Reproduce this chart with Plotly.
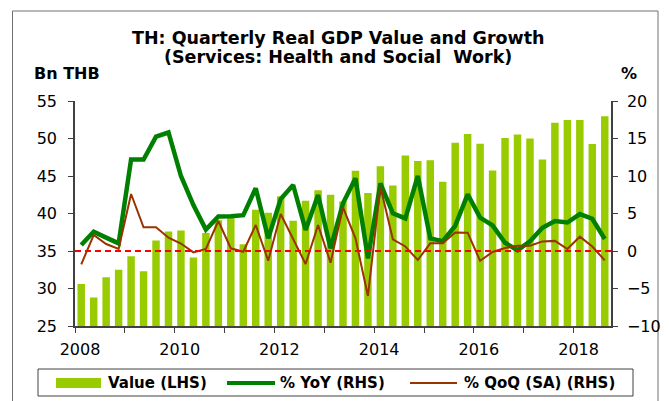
import numpy as np
import plotly.graph_objects as go

# ---------------- data ----------------
quarters = [f"{y}Q{q}" for y in range(2008, 2019) for q in range(1, 5)][:43]

value_lhs = [30.6, 28.8, 31.5, 32.5, 34.3, 32.3, 36.4, 37.6, 37.75, 34.15,
             37.4, 39.1, 39.6, 35.9, 40.5, 40.1, 42.3, 39.05, 41.7, 43.1,
             42.5, 41.6, 45.7, 42.75, 46.3, 43.75, 47.75, 47.0, 47.1, 44.25,
             49.45, 50.6, 49.3, 45.75, 50.07, 50.55, 50.0, 47.2, 52.1, 52.47,
             52.47, 49.27, 52.96]

yoy_rhs = [0.8, 2.58, 1.78, 1.02, 12.2, 12.2, 15.24, 15.8, 10.0, 6.13,
           2.85, 4.6, 4.65, 4.78, 8.36, 1.69, 6.93, 8.8, 2.8, 7.47,
           0.36, 6.36, 9.69, -0.98, 9.02, 5.02, 4.35, 10.0, 1.69, 1.3,
           3.35, 7.56, 4.45, 3.42, 1.1, 0.1, 1.3, 3.1, 4.0, 3.8,
           4.93, 4.3, 1.6]

qoq_rhs = [-1.78, 2.13, 0.93, 0.27, 7.6, 3.16, 3.16, 1.78, 1.0, -0.18,
           0.27, 4.0, 0.36, -0.1, 3.47, -1.29, 4.93, 1.6, -1.73, 3.47,
           -1.56, 5.82, 1.69, -6.0, 8.58, 1.56, 0.6, -1.2, 1.02, 1.02,
           2.47, 2.44, -1.31, -0.13, 0.4, 0.69, 0.71, 1.28, 1.35, 0.27,
           1.91, 0.6, -1.25]

year_labels = ["2008", "2010", "2012", "2014", "2016", "2018"]
left_ticks = [25, 30, 35, 40, 45, 50, 55]
right_ticks = [-10, -5, 0, 5, 10, 15, 20]

title_1 = "TH: Quarterly Real GDP Value and Growth"
title_2 = "(Services: Health and Social  Work)"
legend_names = ["Value (LHS)", "% YoY (RHS)", "% QoQ (SA) (RHS)"]

# ---------------- styling ----------------
W, H = 669, 401
L, R, T, B = 75, 611, 101, 326   # plot area in pixels
FONT = "'DejaVu Sans', Arial, sans-serif"
BAR_C = "#99CC00"
YOY_C = "#008000"
QOQ_C = "#993300"
AXIS_C = "#404040"

def px(x):
    return (x - L) / (R - L)

def py(y):
    return (B - y) / (B - T)

x = np.arange(len(quarters))
first_q_of_year = {q[:4]: i for i, q in reversed(list(enumerate(quarters)))}
label_pos = [first_q_of_year[y] - 0.1 for y in year_labels]
year_starts = [i - 0.5 for i, q in enumerate(quarters) if q.endswith("Q1")]

fig = go.Figure()
fig.add_trace(go.Bar(x=x, y=value_lhs, name=legend_names[0], marker_color=BAR_C,
                     marker_line_width=0, width=0.6, yaxis="y"))
fig.add_trace(go.Scatter(x=x, y=yoy_rhs, name=legend_names[1], mode="lines",
                         line=dict(color=YOY_C, width=4.5), yaxis="y2"))
fig.add_trace(go.Scatter(x=x, y=qoq_rhs, name=legend_names[2], mode="lines",
                         line=dict(color=QOQ_C, width=2), yaxis="y2"))

shapes = []
shapes.append(dict(type="line", xref="paper", x0=0, x1=1, yref="y2", y0=0, y1=0,
                   line=dict(color="#FF0000", width=2, dash="6px,4px"), layer="above"))
shapes.append(dict(type="rect", xref="paper", yref="paper",
                   x0=px(12.5), x1=px(658), y0=py(405), y1=py(11),
                   line=dict(color="#707070", width=1), layer="below"))
shapes.append(dict(type="rect", xref="paper", yref="paper",
                   x0=px(38), x1=px(633), y0=py(396), y1=py(369),
                   line=dict(color="#404040", width=1), layer="below"))
shapes.append(dict(type="rect", xref="paper", yref="paper",
                   x0=px(56), x1=px(101), y0=py(388), y1=py(378),
                   line=dict(width=0), fillcolor=BAR_C))
shapes.append(dict(type="line", xref="paper", yref="paper",
                   x0=px(227), x1=px(275), y0=py(383), y1=py(383),
                   line=dict(color=YOY_C, width=4)))
shapes.append(dict(type="line", xref="paper", yref="paper",
                   x0=px(410), x1=px(457), y0=py(383), y1=py(383),
                   line=dict(color=QOQ_C, width=2)))

def ann(text, xp, yp, size, anchor="left"):
    return dict(text=text, x=px(xp), y=py(yp), xref="paper", yref="paper",
                xanchor=anchor, yanchor="middle", showarrow=False,
                font=dict(family=FONT, size=size, color="black"))

annotations = [
    ann(f"<b>{title_1}</b>", 338, 38, 17.5, "center"),
    ann(f"<b>{title_2}</b>", 338, 57, 17.5, "center"),
    ann("<b>Bn THB</b>", 32, 74, 16),
    ann("<b>%</b>", 629, 74, 16, "center"),
    ann(f"<b>{legend_names[0]}</b>", 106, 383, 15),
    ann(f"<b>{legend_names[1]}</b>", 278, 383, 15),
    ann(f"<b>{legend_names[2]}</b>", 462, 383, 15),
]

tickfont = dict(family=FONT, size=16, color="black")

fig.update_layout(
    width=W, height=H,
    margin=dict(l=L, r=W - R, t=T, b=H - B, pad=0, autoexpand=False),
    paper_bgcolor="white", plot_bgcolor="white",
    showlegend=False,
    font=dict(family=FONT, size=16, color="black"),
    shapes=shapes, annotations=annotations,
    xaxis=dict(range=[-0.5, len(quarters) - 0.5], showgrid=False, zeroline=False,
               showline=True, linecolor=AXIS_C, linewidth=1.5,
               tickmode="array", tickvals=label_pos, ticktext=year_labels,
               ticks="", ticklabelstandoff=8, tickfont=tickfont,
               minor=dict(tickmode="array", tickvals=year_starts, ticks="outside",
                          ticklen=5, tickcolor=AXIS_C, tickwidth=1, showgrid=False)),
    yaxis=dict(range=[25, 55], tickvals=left_ticks, showgrid=False, zeroline=False,
               showline=True, linecolor=AXIS_C, linewidth=1.5,
               ticks="outside", ticklen=5, tickcolor=AXIS_C, ticklabelstandoff=8,
               tickfont=tickfont),
    yaxis2=dict(range=[-10, 20], tickvals=right_ticks, overlaying="y", side="right",
                showgrid=False, zeroline=False,
                showline=True, linecolor=AXIS_C, linewidth=1.5,
                ticks="outside", ticklen=5, tickcolor=AXIS_C, ticklabelstandoff=6,
                tickfont=tickfont),
)

fig.write_html("out.html",
               config={"displayModeBar": False},
               post_script="document.body.style.margin='0';document.body.style.padding='0';")
